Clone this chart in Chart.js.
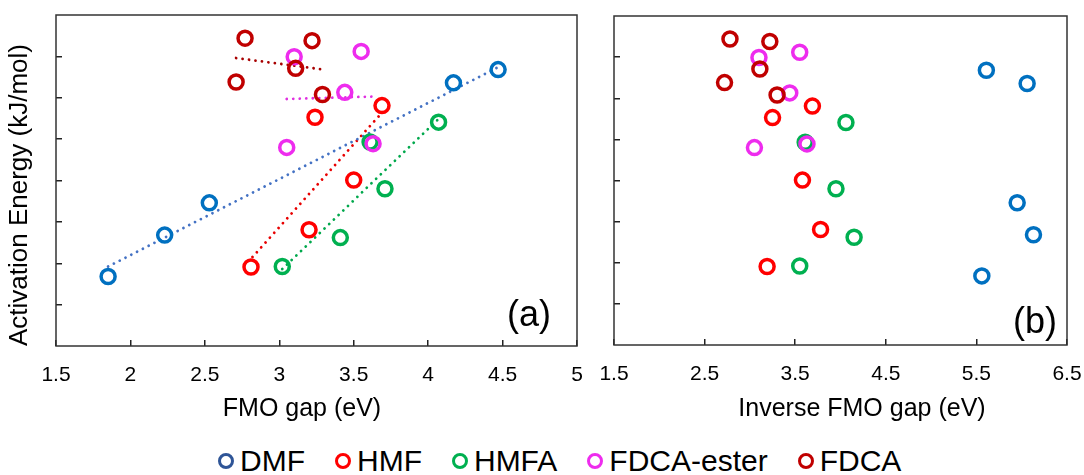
<!DOCTYPE html>
<html>
<head>
<meta charset="utf-8">
<script src="https://cdn.jsdelivr.net/npm/chart.js@4/dist/chart.umd.min.js"></script>
<style>
  html, body { margin: 0; padding: 0; background: #fff; }
  body { width: 1084px; height: 475px; position: relative; overflow: hidden; font-family: "Liberation Sans", Arial, sans-serif; }
  #wrapA { position: absolute; left: 0; top: 0; width: 595px; height: 430px; }
  #wrapB { position: absolute; left: 595px; top: 0; width: 489px; height: 430px; }
  #legend { position: absolute; left: 218px; top: 441px; height: 40px; display: flex; align-items: center; gap: 30px; font-size: 30px; color: #000; white-space: nowrap; }
  .item { display: flex; align-items: center; }
  .dot { width: 10px; height: 10px; border-radius: 50%; border: 3.5px solid; margin-right: 6px; }
</style>
</head>
<body>
<div id="wrapA"><canvas id="chartA" width="595" height="430"></canvas></div>
<div id="wrapB"><canvas id="chartB" width="489" height="430"></canvas></div>
<div id="legend"></div>

<script>
// series, drawn in this order (last one ends up on top)
const seriesNames = ["DMF", "HMF", "HMFA", "FDCA-ester", "FDCA"];
const markerColors = ["#0070C0", "#FF0000", "#00B050", "#EE2CEE", "#C00000"];
const legendColors = ["#2F5597", "#FF0000", "#00B050", "#EE2CEE", "#C00000"];
const trendColors = ["#4472C4", "#E80000", "#00A84C", "#E030E0", "#A80000"];

// activation energy (arbitrary units, axis has no labels)
const energyDMF = [1.68, 2.68, 3.46, 6.36, 6.68];
const energyHMF = [1.91, 2.81, 4.01, 5.53, 5.81];
const energyHMFA = [1.92, 2.62, 3.80, 4.93, 5.41];
const energyEster = [4.80, 4.89, 6.13, 6.99, 7.12];
const energyFDCA = [6.38, 6.08, 6.71, 7.44, 7.38];

// FMO gap (eV) - panel (a)
const fmoDMF = [1.85, 2.23, 2.53, 4.17, 4.47];
const fmoHMF = [2.81, 3.20, 3.50, 3.24, 3.69];
const fmoHMFA = [3.02, 3.41, 3.71, 3.61, 4.07];
const fmoEster = [3.05, 3.63, 3.44, 3.10, 3.55];
const fmoFDCA = [2.71, 3.29, 3.11, 2.77, 3.22];

// inverse FMO gap (eV) - panel (b)
const invDMF = [5.56, 6.13, 5.95, 6.06, 5.61];
const invHMF = [3.19, 3.78, 3.58, 3.25, 3.69];
const invHMFA = [3.55, 4.15, 3.95, 3.61, 4.06];
const invEster = [3.05, 3.63, 3.44, 3.10, 3.55];
const invFDCA = [2.72, 3.30, 3.11, 2.78, 3.22];

// dotted trend lines in panel (a), end points
const trendX = [[1.85, 4.46], [2.82, 3.69], [3.02, 4.07], [3.05, 3.64], [2.71, 3.30]];
const trendY = [[1.92, 6.72], [2.15, 5.64], [1.86, 5.49], [5.97, 6.03], [6.96, 6.68]];

// tick labels
const fmoTicks = [1.5, 2, 2.5, 3, 3.5, 4, 4.5, 5];
const invTicks = [1.5, 2.5, 3.5, 4.5, 5.5, 6.5];
const energyTicks = [1, 2, 3, 4, 5, 6, 7];

const energy = [energyDMF, energyHMF, energyHMFA, energyEster, energyFDCA];
const fmo = [fmoDMF, fmoHMF, fmoHMFA, fmoEster, fmoFDCA];
const inv = [invDMF, invHMF, invHMFA, invEster, invFDCA];

const FONT = '"Liberation Sans", Arial, sans-serif';
Chart.defaults.font.family = FONT;
Chart.defaults.color = "#000";

function points(xs, ys) {
    return xs.map((x, i) => ({ x: x, y: ys[i] }));
}

function markerSets(xArrays) {
    return seriesNames.map((name, s) => ({
        label: name,
        data: points(xArrays[s], energy[s]),
        order: seriesNames.length - 1 - s,
        pointRadius: 7,
        pointHoverRadius: 7,
        pointBorderWidth: 3.5,
        borderColor: markerColors[s],
        backgroundColor: "rgba(0,0,0,0)",
        pointBackgroundColor: "rgba(0,0,0,0)",
        showLine: false
    }));
}

function trendSets() {
    return seriesNames.map((name, s) => ({
        label: name + " fit",
        data: points(trendX[s], trendY[s]),
        order: 10,
        showLine: true,
        pointRadius: 0,
        borderColor: trendColors[s],
        borderWidth: 2.8,
        borderDash: [0.01, 6.5],
        borderCapStyle: "round",
        fill: false
    }));
}

// frame round the plot, panel letter and x axis title
const panelPlugin = {
    id: "panel",
    afterDraw(chart, args, opts) {
        const ctx = chart.ctx;
        const a = chart.chartArea;
        ctx.save();
        ctx.strokeStyle = "#333";
        ctx.lineWidth = 1.5;
        ctx.strokeRect(a.left, a.top, a.right - a.left, a.bottom - a.top);
        ctx.fillStyle = "#000";
        ctx.textBaseline = "middle";
        ctx.font = "36px " + FONT;
        ctx.textAlign = "right";
        ctx.fillText(opts.label, a.right - opts.dx, a.bottom - opts.dy);
        ctx.font = "25px " + FONT;
        ctx.textAlign = "center";
        ctx.fillText(opts.title, opts.titleX, opts.titleY);
        ctx.restore();
    }
};

function xAxis(ticks, min, max, height) {
    return {
        type: "linear",
        min: min,
        max: max,
        afterBuildTicks: s => { s.ticks = ticks.map(v => ({ value: v })); },
        afterFit: s => { s.height = height; },
        border: { display: false },
        grid: { drawOnChartArea: false, tickLength: -6, color: "#222", lineWidth: 1.5 },
        // labels pushed down through the line height, padding kept 0 so it does not eat the side margins
        ticks: { padding: 0, font: { size: 21, lineHeight: 3.33 }, maxRotation: 0, autoSkip: false, callback: v => String(v) }
    };
}

function yAxis(width, title) {
    const axis = {
        type: "linear",
        min: 0,
        max: 8,
        afterBuildTicks: s => { s.ticks = energyTicks.map(v => ({ value: v })); },
        afterFit: s => { s.width = width; },
        border: { display: false },
        grid: { drawOnChartArea: false, tickLength: -6, color: "#222", lineWidth: 1.5 },
        ticks: { display: false }
    };
    if (title) {
        axis.title = { display: true, text: title, align: "start", font: { size: 26 }, padding: { top: 4, bottom: 0 } };
    }
    return axis;
}

// Panel (a)
new Chart(document.getElementById("chartA"), {
    type: "scatter",
    data: { datasets: markerSets(fmo).concat(trendSets()) },
    options: {
        responsive: false,
        animation: false,
        layout: { padding: { left: 0, top: 15, right: 18, bottom: 0 } },
        scales: {
            x: xAxis(fmoTicks, 1.5, 5, 84),
            y: yAxis(56, "Activation Energy (kJ/mol)")
        },
        plugins: {
            legend: { display: false },
            tooltip: { enabled: false },
            panel: { label: "(a)", dx: 26, dy: 30, title: "FMO gap (eV)", titleX: 302, titleY: 409 }
        }
    },
    plugins: [panelPlugin]
});

// Panel (b)
new Chart(document.getElementById("chartB"), {
    type: "scatter",
    data: { datasets: markerSets(inv) },
    options: {
        responsive: false,
        animation: false,
        layout: { padding: { left: 0, top: 16, right: 17, bottom: 0 } },
        scales: {
            x: xAxis(invTicks, 1.5, 6.5, 85),
            y: yAxis(19, null)
        },
        plugins: {
            legend: { display: false },
            tooltip: { enabled: false },
            panel: { label: "(b)", dx: 10, dy: 22, title: "Inverse FMO gap (eV)", titleX: 267, titleY: 409 }
        }
    },
    plugins: [panelPlugin]
});

// legend below both panels
const legend = document.getElementById("legend");
seriesNames.forEach((name, s) => {
    const item = document.createElement("div");
    item.className = "item";
    const dot = document.createElement("span");
    dot.className = "dot";
    dot.style.borderColor = legendColors[s];
    const text = document.createElement("span");
    text.innerText = name;
    item.appendChild(dot);
    item.appendChild(text);
    legend.appendChild(item);
});
</script>
</body>
</html>
